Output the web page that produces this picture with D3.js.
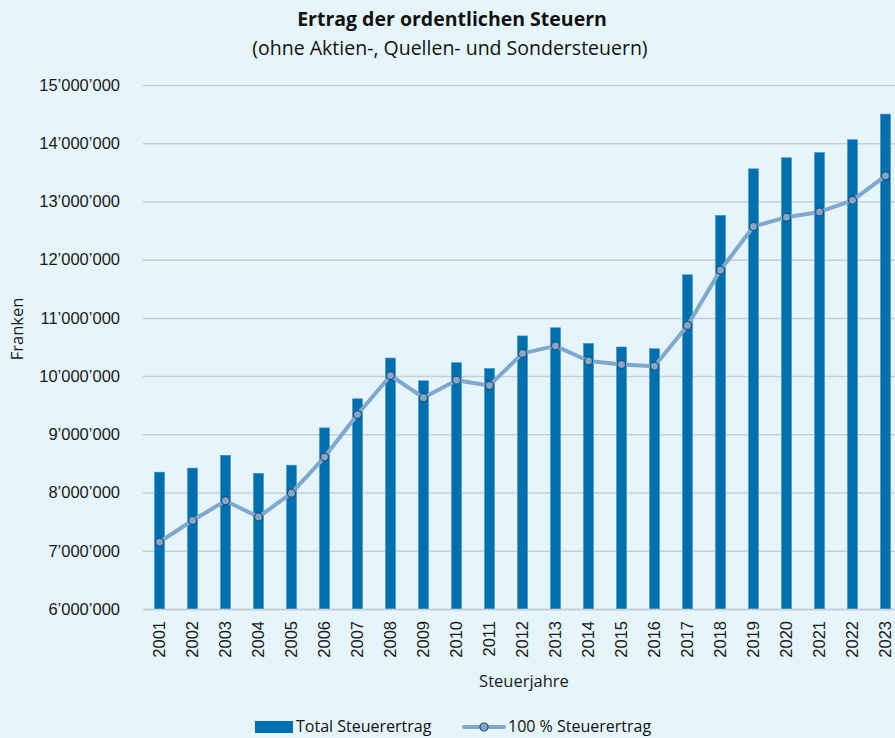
<!DOCTYPE html>
<html>
<head>
<meta charset="utf-8">
<script src="https://cdn.jsdelivr.net/npm/d3@7"></script>
<style>
  html, body { margin: 0; padding: 0; background: #e6f4fb; overflow: hidden; }
  svg { display: block; font-family: "Open Sans", "Noto Sans", sans-serif; }
</style>
</head>
<body>
<svg id="chart" width="895" height="738"></svg>
<script>
// data (Franken)
const years = ["2001","2002","2003","2004","2005","2006","2007","2008","2009","2010","2011","2012",
  "2013","2014","2015","2016","2017","2018","2019","2020","2021","2022","2023"];
const totalErtrag = [8350000, 8420000, 8640000, 8330000, 8470000, 9110000, 9610000, 10310000,
  9920000, 10230000, 10130000, 10690000, 10830000, 10560000, 10500000, 10470000, 11740000,
  12760000, 13560000, 13750000, 13840000, 14060000, 14500000];
const hundertErtrag = [7150000, 7520000, 7860000, 7580000, 7990000, 8610000, 9340000, 10010000,
  9630000, 9930000, 9840000, 10390000, 10520000, 10260000, 10200000, 10170000, 10870000,
  11820000, 12570000, 12730000, 12820000, 13020000, 13440000];
const yTicks = [6000000, 7000000, 8000000, 9000000, 10000000, 11000000, 12000000, 13000000, 14000000, 15000000];

const svg = d3.select("#chart");
const margin = { top: 85, left: 143, bottom: 609, right: 902 };

const x = d3.scaleBand()
  .domain(years)
  .range([margin.left, margin.right])
  .paddingInner(0.7)
  .paddingOuter(0.35);

const y = d3.scaleLinear()
  .domain([6000000, 15000000])
  .range([margin.bottom, margin.top]);

const fmt = v => d3.format(",")(v).replace(/,/g, "\u2019");

// gridlines + y labels
const yAxis = d3.axisLeft(y)
  .tickValues(yTicks)
  .tickSize(-(margin.right - margin.left))
  .tickPadding(23)
  .tickFormat(fmt);

const gy = svg.append("g")
  .attr("transform", `translate(${margin.left},0)`)
  .call(yAxis);
gy.select(".domain").remove();
gy.selectAll(".tick line").attr("stroke", "#c3ced6").attr("stroke-width", 1.5);
gy.selectAll(".tick text").attr("fill", "#1a1a1a").style("font-size", "16.5px");

// bars
svg.append("g").selectAll("rect")
  .data(years)
  .join("rect")
    .attr("x", d => x(d))
    .attr("y", (d, i) => y(totalErtrag[i]))
    .attr("width", x.bandwidth())
    .attr("height", (d, i) => y(6000000) - y(totalErtrag[i]))
    .attr("fill", "#006fae")
    .attr("stroke", "#3a8fc4")
    .attr("stroke-width", 0.6);

// x axis
const gx = svg.append("g")
  .attr("transform", `translate(0,${margin.bottom})`)
  .call(d3.axisBottom(x).tickSize(0).tickPadding(0));
gx.select(".domain").attr("stroke", "#c3ced6").attr("stroke-width", 1.5);
gx.selectAll(".tick text")
  .attr("transform", "rotate(-90)")
  .attr("x", -12)
  .attr("y", 0)
  .attr("dy", "0.35em")
  .attr("text-anchor", "end")
  .attr("fill", "#1a1a1a")
  .style("font-size", "16.5px");

// line
const cx = d => x(d) + x.bandwidth() / 2;
const lineGen = d3.line()
  .x((d, i) => cx(years[i]))
  .y(d => y(d));

svg.append("path")
  .datum(hundertErtrag)
  .attr("d", lineGen)
  .attr("fill", "none")
  .attr("stroke", "#80a8cc")
  .attr("stroke-width", 4)
  .attr("stroke-linejoin", "round");

svg.append("g").selectAll("circle")
  .data(hundertErtrag)
  .join("circle")
    .attr("cx", (d, i) => cx(years[i]))
    .attr("cy", d => y(d))
    .attr("r", 4)
    .attr("fill", "#80a8cc")
    .attr("stroke", "#1f4f78")
    .attr("stroke-width", 1.2);

// titles
svg.append("text")
  .attr("x", 452).attr("y", 26)
  .attr("text-anchor", "middle")
  .style("font-size", "19.5px").style("font-weight", "bold")
  .attr("fill", "#111")
  .text("Ertrag der ordentlichen Steuern");
svg.append("text")
  .attr("x", 450).attr("y", 55)
  .attr("text-anchor", "middle")
  .style("font-size", "19.5px")
  .attr("fill", "#111")
  .text("(ohne Aktien-, Quellen- und Sondersteuern)");

// axis titles
svg.append("text")
  .attr("transform", "translate(23,329) rotate(-90)")
  .attr("text-anchor", "middle")
  .style("font-size", "16.5px")
  .attr("fill", "#1a1a1a")
  .text("Franken");
svg.append("text")
  .attr("x", 524).attr("y", 687)
  .attr("text-anchor", "middle")
  .style("font-size", "16.5px")
  .attr("fill", "#1a1a1a")
  .text("Steuerjahre");

// legend (kept just above the bottom edge)
const leg = svg.append("g");
leg.append("rect")
  .attr("x", 255).attr("y", 721).attr("width", 38).attr("height", 12)
  .attr("fill", "#006fae");
leg.append("text")
  .attr("x", 296).attr("y", 732)
  .style("font-size", "16px").attr("fill", "#111")
  .text("Total Steuerertrag");
leg.append("line")
  .attr("x1", 464).attr("x2", 504).attr("y1", 727).attr("y2", 727)
  .attr("stroke", "#80a8cc").attr("stroke-width", 4).attr("stroke-linecap", "round");
leg.append("circle")
  .attr("cx", 484).attr("cy", 727).attr("r", 4)
  .attr("fill", "#80a8cc").attr("stroke", "#1f4f78").attr("stroke-width", 1.2);
leg.append("text")
  .attr("x", 508).attr("y", 732)
  .style("font-size", "16px").attr("fill", "#111")
  .text("100 % Steuerertrag");
</script>
</body>
</html>
